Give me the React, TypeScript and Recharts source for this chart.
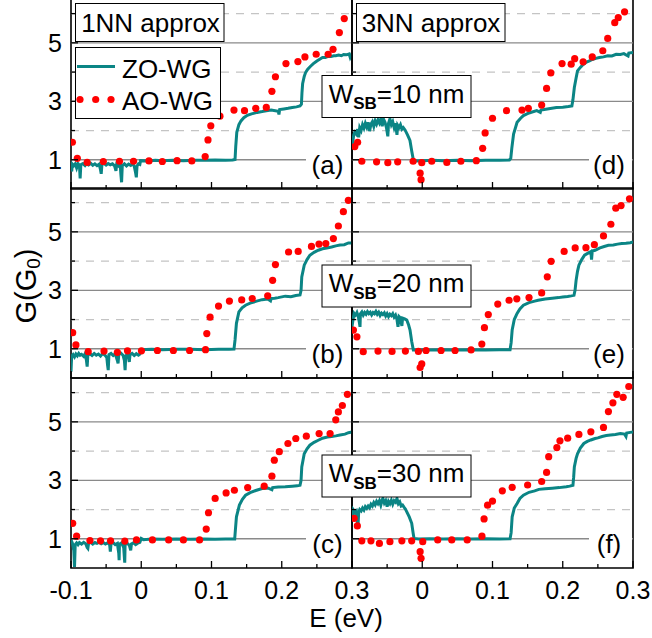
import React from 'react';
import { ComposedChart, Line, Scatter, XAxis, YAxis, ReferenceLine, ReferenceArea } from 'recharts';

type P = [number, number];

const FONT = '"Liberation Sans", Arial, Helvetica, sans-serif';
const TEAL = '#0b8585';
const RED = '#ff0000';

const xTicks = [-0.1, -0.05, 0, 0.05, 0.1, 0.15, 0.2, 0.25, 0.3];
const xTickLabels = ['-0.1', '', '0', '', '0.1', '', '0.2', '', '0.3'];
const yTicks = [1, 2, 3, 4, 5, 6];
const yLabelTicks = [1, 3, 5];
const solidGrid = [1, 3, 5];
const dashedGrid = [2, 4, 6];
const panelLabels = ['(a)', '(b)', '(c)', '(d)', '(e)', '(f)'];
const widthLabels = ['10', '20', '30'];
const approxLabels = ['1NN approx', '3NN approx'];
const seriesNames = ['ZO-WG', 'AO-WG'];

// ---- panel (a): 1NN, W=10 nm
const zoA: P[] = [
  [-0.1, 0.78], [-0.099, 0.6], [-0.098, 0.85], [-0.096, 0.8], [-0.094, 0.86], [-0.092, 0.72], [-0.09, 0.87], [-0.088, 0.82], [-0.087, 0.36], [-0.086, 0.83],
  [-0.083, 0.87], [-0.08, 0.8], [-0.078, 0.86], [-0.075, 0.82], [-0.072, 0.88], [-0.069, 0.81], [-0.066, 0.86], [-0.063, 0.8], [-0.06, 0.85], [-0.058, 0.66],
  [-0.057, 0.52], [-0.056, 0.83], [-0.053, 0.88], [-0.05, 0.82], [-0.047, 0.87], [-0.044, 0.83], [-0.041, 0.86], [-0.038, 0.79], [-0.036, 0.62], [-0.035, 0.84],
  [-0.032, 0.78], [-0.03, 0.86], [-0.029, 0.5], [-0.028, 0.23], [-0.027, 0.8], [-0.024, 0.86], [-0.021, 0.79], [-0.018, 0.85], [-0.015, 0.81], [-0.012, 0.87],
  [-0.01, 0.78], [-0.008, 0.55], [-0.007, 0.4], [-0.006, 0.79], [-0.004, 0.86], [-0.002, 0.84], [-0.001, 0.97], [0.01, 0.96], [0.02, 0.98], [0.03, 0.97],
  [0.045, 0.98], [0.06, 0.97], [0.075, 0.98], [0.09, 0.98], [0.105, 0.99], [0.12, 0.98], [0.13, 0.99], [0.1335, 1.01], [0.1345, 1.45], [0.136, 1.94],
  [0.139, 2.2], [0.142, 2.33], [0.146, 2.44], [0.151, 2.52], [0.157, 2.57], [0.165, 2.62], [0.172, 2.65], [0.178, 2.68], [0.185, 2.7], [0.195, 2.66],
  [0.196, 2.55], [0.197, 2.72], [0.203, 2.74], [0.209, 2.76], [0.215, 2.79], [0.221, 2.81], [0.226, 2.84], [0.228, 2.9], [0.2288, 3.3], [0.2297, 3.6],
  [0.232, 3.85], [0.234, 3.99], [0.237, 4.1], [0.241, 4.2], [0.245, 4.29], [0.25, 4.38], [0.254, 4.44], [0.258, 4.5], [0.262, 4.5], [0.266, 4.54],
  [0.27, 4.53], [0.274, 4.56], [0.277, 4.56], [0.281, 4.58], [0.285, 4.56], [0.288, 4.6], [0.292, 4.59], [0.296, 4.62], [0.2975, 4.5], [0.3, 4.62],
];
const aoA: P[] = [
  [-0.098, 1.6], [-0.091, 1.05], [-0.077, 0.91], [-0.054, 0.94], [-0.031, 0.95], [-0.011, 0.95], [0.011, 0.96], [0.03, 0.94], [0.051, 0.97], [0.072, 0.96],
  [0.091, 1.11], [0.095, 1.68], [0.099, 2.16], [0.112, 2.49], [0.132, 2.7], [0.147, 2.68], [0.163, 2.76], [0.178, 2.79], [0.186, 3.34], [0.191, 3.84],
  [0.206, 4.29], [0.223, 4.36], [0.233, 4.52], [0.249, 4.61], [0.266, 4.61], [0.273, 4.78], [0.282, 5.35], [0.289, 5.83],
];

// ---- panel (b): 1NN, W=20 nm
const zoB: P[] = [
  [-0.1, 0.22], [-0.0995, 0.5], [-0.099, 0.74], [-0.097, 0.8], [-0.095, 0.72], [-0.093, 0.82], [-0.091, 0.76], [-0.089, 0.84], [-0.087, 0.78], [-0.085, 0.81],
  [-0.082, 0.74], [-0.08, 0.83], [-0.078, 0.6], [-0.077, 0.39], [-0.076, 0.78], [-0.073, 0.83], [-0.07, 0.77], [-0.067, 0.84], [-0.064, 0.78], [-0.061, 0.82],
  [-0.058, 0.75], [-0.055, 0.84], [-0.052, 0.79], [-0.049, 0.7], [-0.048, 0.45], [-0.047, 0.27], [-0.046, 0.8], [-0.043, 0.84], [-0.04, 0.77], [-0.037, 0.83],
  [-0.034, 0.6], [-0.033, 0.5], [-0.032, 0.8], [-0.029, 0.85], [-0.026, 0.78], [-0.024, 0.6], [-0.023, 0.27], [-0.022, 0.76], [-0.019, 0.82], [-0.017, 0.55],
  [-0.016, 0.8], [-0.013, 0.84], [-0.01, 0.77], [-0.007, 0.83], [-0.004, 0.78], [-0.002, 0.82], [0.0, 0.97], [0.015, 0.98], [0.03, 0.97], [0.05, 0.98],
  [0.07, 0.98], [0.09, 0.97], [0.11, 0.98], [0.125, 0.98], [0.132, 0.99], [0.1335, 1.3], [0.1355, 1.87], [0.139, 2.26], [0.1435, 2.4], [0.1485, 2.49],
  [0.155, 2.56], [0.163, 2.62], [0.172, 2.68], [0.18, 2.7], [0.184, 2.64], [0.185, 2.72], [0.19, 2.73], [0.195, 2.75], [0.205, 2.8], [0.213, 2.78],
  [0.22, 2.82], [0.226, 2.84], [0.2275, 3.0], [0.2285, 3.46], [0.232, 3.86], [0.236, 4.05], [0.24, 4.2], [0.246, 4.3], [0.252, 4.37], [0.258, 4.42],
  [0.264, 4.45], [0.271, 4.48], [0.277, 4.52], [0.283, 4.55], [0.289, 4.56], [0.295, 4.62], [0.3, 4.62],
];
const aoB: P[] = [
  [-0.0976, 1.55], [-0.093, 1.13], [-0.0755, 0.9], [-0.053, 0.92], [-0.034, 0.88], [-0.0196, 0.93], [0.0003, 0.93], [0.023, 0.94], [0.0457, 0.94], [0.0688, 0.94],
  [0.0915, 0.97], [0.0933, 1.52], [0.098, 2.08], [0.11, 2.46], [0.1255, 2.63], [0.143, 2.67], [0.158, 2.72], [0.18, 2.81], [0.187, 3.34], [0.191, 3.88],
  [0.2097, 4.31], [0.2234, 4.33], [0.2423, 4.5], [0.253, 4.58], [0.2627, 4.6], [0.2735, 4.77], [0.2806, 5.2], [0.2877, 5.69], [0.2948, 6.08],
];

// ---- panel (c): 1NN, W=30 nm
const zoC: P[] = [
  [-0.1, 0.96], [-0.098, 0.85], [-0.096, 0.6], [-0.095, 0.04], [-0.094, 0.8], [-0.092, 0.86], [-0.09, 0.8], [-0.088, 0.87], [-0.085, 0.82], [-0.082, 0.88],
  [-0.079, 0.83], [-0.077, 0.7], [-0.076, 0.67], [-0.075, 0.84], [-0.072, 0.88], [-0.069, 0.82], [-0.066, 0.87], [-0.063, 0.84], [-0.06, 0.88], [-0.057, 0.83],
  [-0.054, 0.87], [-0.051, 0.82], [-0.048, 0.86], [-0.045, 0.8], [-0.044, 0.56], [-0.043, 0.83], [-0.04, 0.87], [-0.037, 0.8], [-0.034, 0.84], [-0.032, 0.5],
  [-0.0315, 0.27], [-0.031, 0.82], [-0.028, 0.86], [-0.025, 0.7], [-0.0235, 0.18], [-0.023, 0.79], [-0.02, 0.85], [-0.017, 0.78], [-0.015, 0.6], [-0.014, 0.82],
  [-0.011, 0.86], [-0.008, 0.8], [-0.005, 0.85], [-0.002, 0.88], [0.0, 1.01], [0.003, 0.97], [0.015, 0.99], [0.03, 0.98], [0.05, 0.99], [0.07, 0.98],
  [0.09, 0.99], [0.105, 0.98], [0.12, 0.99], [0.133, 0.99], [0.134, 1.3], [0.1355, 1.75], [0.1397, 2.15], [0.144, 2.35], [0.1485, 2.49], [0.155, 2.58],
  [0.163, 2.65], [0.172, 2.72], [0.18, 2.74], [0.186, 2.68], [0.187, 2.75], [0.195, 2.77], [0.205, 2.78], [0.215, 2.8], [0.222, 2.81], [0.226, 2.83],
  [0.2275, 3.0], [0.2285, 3.46], [0.232, 3.91], [0.236, 4.08], [0.24, 4.2], [0.246, 4.3], [0.252, 4.37], [0.258, 4.44], [0.265, 4.48], [0.271, 4.5],
  [0.277, 4.52], [0.283, 4.55], [0.29, 4.58], [0.295, 4.63], [0.3, 4.65],
];
const aoC: P[] = [
  [-0.0976, 1.53], [-0.092, 1.09], [-0.073, 0.94], [-0.058, 0.93], [-0.0437, 0.93], [-0.0234, 0.92], [-0.0068, 0.96], [0.0159, 0.96], [0.039, 0.96], [0.06, 0.96],
  [0.083, 0.96], [0.0925, 1.33], [0.0957, 1.89], [0.1052, 2.38], [0.1208, 2.57], [0.1326, 2.66], [0.1515, 2.75], [0.175, 2.8], [0.186, 3.14], [0.1894, 3.69],
  [0.1965, 3.98], [0.2088, 4.26], [0.22, 4.43], [0.235, 4.51], [0.2532, 4.6], [0.2688, 4.6], [0.2769, 5.07], [0.2806, 5.34], [0.2863, 5.56], [0.2934, 5.94],
];

// ---- panel (d): 3NN, W=10 nm
const zoD: P[] = [
  [-0.1, 1.43], [-0.099, 1.6], [-0.0975, 1.85], [-0.096, 1.94], [-0.094, 1.88], [-0.092, 2.05], [-0.0905, 1.77], [-0.089, 2.1], [-0.087, 2.0], [-0.085, 2.2],
  [-0.083, 2.08], [-0.081, 2.25], [-0.079, 2.12], [-0.077, 2.28], [-0.075, 1.98], [-0.073, 2.22], [-0.071, 2.3], [-0.069, 2.14], [-0.067, 2.33], [-0.065, 2.22],
  [-0.063, 2.36], [-0.061, 2.26], [-0.059, 2.4], [-0.057, 2.15], [-0.055, 2.38], [-0.053, 2.28], [-0.051, 2.1], [-0.049, 1.8], [-0.048, 2.25], [-0.046, 2.4],
  [-0.044, 2.2], [-0.042, 2.3], [-0.04, 2.1], [-0.038, 2.25], [-0.036, 1.85], [-0.035, 2.18], [-0.033, 2.1], [-0.031, 2.2], [-0.029, 2.05], [-0.027, 2.1],
  [-0.0245, 2.02], [-0.021, 1.85], [-0.0175, 1.66], [-0.015, 1.3], [-0.0127, 1.0], [-0.01, 0.96], [0.0, 0.97], [0.015, 0.98], [0.03, 0.97], [0.05, 0.98],
  [0.07, 0.97], [0.09, 0.98], [0.11, 0.98], [0.124, 0.99], [0.126, 1.05], [0.1275, 1.4], [0.13, 1.88], [0.135, 2.28], [0.14, 2.42], [0.144, 2.51],
  [0.152, 2.6], [0.163, 2.68], [0.168, 2.62], [0.169, 2.7], [0.178, 2.74], [0.191, 2.79], [0.2, 2.8], [0.208, 2.82], [0.213, 2.84], [0.2145, 3.05],
  [0.2165, 3.47], [0.219, 3.8], [0.221, 4.04], [0.225, 4.16], [0.229, 4.26], [0.233, 4.33], [0.238, 4.38], [0.242, 4.43], [0.247, 4.47], [0.252, 4.5],
  [0.258, 4.52], [0.264, 4.56], [0.27, 4.55], [0.276, 4.61], [0.282, 4.6], [0.287, 4.63], [0.293, 4.55], [0.294, 4.65], [0.3, 4.67],
];
const aoD: P[] = [
  [-0.096, 1.45], [-0.092, 1.6], [-0.086, 0.95], [-0.065, 0.93], [-0.049, 0.9], [-0.035, 0.93], [-0.013, 0.95], [-0.003, 0.54], [-0.0017, 0.32], [-0.0007, 0.9],
  [0.0135, 0.95], [0.035, 0.91], [0.055, 0.95], [0.077, 0.97], [0.086, 1.39], [0.0895, 1.92], [0.1, 2.42], [0.12, 2.68], [0.142, 2.7], [0.151, 2.76],
  [0.17, 2.87], [0.177, 3.44], [0.183, 3.97], [0.199, 4.29], [0.212, 4.27], [0.217, 4.46], [0.229, 4.35], [0.242, 4.52], [0.257, 4.73], [0.264, 5.15],
  [0.274, 5.69], [0.279, 5.86], [0.288, 6.06],
];

// ---- panel (e): 3NN, W=20 nm
const zoE: P[] = [
  [-0.1, 1.75], [-0.0985, 2.0], [-0.097, 2.21], [-0.095, 2.15], [-0.093, 2.24], [-0.091, 2.1], [-0.0895, 1.9], [-0.0886, 1.75], [-0.088, 2.2], [-0.086, 2.26],
  [-0.084, 2.15], [-0.082, 2.24], [-0.08, 2.18], [-0.078, 2.27], [-0.076, 2.2], [-0.074, 2.25], [-0.072, 2.16], [-0.07, 2.24], [-0.068, 2.2], [-0.066, 2.28],
  [-0.064, 2.18], [-0.062, 2.25], [-0.06, 2.14], [-0.058, 2.22], [-0.056, 2.17], [-0.054, 2.23], [-0.052, 2.12], [-0.05, 2.2], [-0.048, 2.1], [-0.046, 2.18],
  [-0.044, 2.13], [-0.042, 2.2], [-0.04, 2.08], [-0.038, 2.15], [-0.036, 2.0], [-0.0345, 1.75], [-0.033, 2.1], [-0.031, 2.05], [-0.029, 1.78], [-0.028, 2.05],
  [-0.025, 2.02], [-0.022, 1.98], [-0.0195, 1.82], [-0.0174, 1.64], [-0.015, 1.25], [-0.0127, 0.96], [-0.005, 0.97], [0.01, 0.96], [0.03, 0.97], [0.05, 0.96],
  [0.07, 0.97], [0.09, 0.96], [0.11, 0.97], [0.125, 0.97], [0.1265, 1.2], [0.128, 1.64], [0.131, 2.0], [0.135, 2.21], [0.139, 2.36], [0.144, 2.49],
  [0.152, 2.58], [0.16, 2.63], [0.165, 2.66], [0.175, 2.7], [0.185, 2.73], [0.194, 2.75], [0.2, 2.77], [0.207, 2.79], [0.212, 2.81], [0.216, 2.83],
  [0.2175, 3.0], [0.219, 3.34], [0.221, 3.65], [0.223, 3.86], [0.227, 4.05], [0.231, 4.2], [0.236, 4.27], [0.24, 4.32], [0.241, 4.05], [0.242, 4.34],
  [0.246, 4.37], [0.253, 4.45], [0.259, 4.5], [0.265, 4.54], [0.272, 4.55], [0.278, 4.58], [0.284, 4.6], [0.29, 4.61], [0.296, 4.63], [0.3, 4.65],
];
const aoE: P[] = [
  [-0.098, 1.64], [-0.093, 1.41], [-0.084, 0.9], [-0.063, 0.92], [-0.043, 0.91], [-0.024, 0.92], [-0.0055, 0.91], [-0.003, 0.36], [-0.0007, 0.48], [0.0054, 0.94],
  [0.0268, 0.94], [0.0467, 0.94], [0.0695, 0.96], [0.0848, 1.16], [0.0885, 1.72], [0.094, 2.17], [0.1075, 2.53], [0.1236, 2.66], [0.1346, 2.71], [0.152, 2.75],
  [0.17, 2.91], [0.178, 3.46], [0.1835, 3.99], [0.202, 4.33], [0.2177, 4.45], [0.233, 4.46], [0.245, 4.56], [0.258, 4.86], [0.2685, 5.26], [0.2755, 5.81],
  [0.283, 5.9], [0.295, 6.13],
];

// ---- panel (f): 3NN, W=30 nm
const zoF: P[] = [
  [-0.1, 1.64], [-0.0985, 1.85], [-0.098, 1.98], [-0.096, 1.9], [-0.094, 1.95], [-0.0925, 1.6], [-0.0915, 1.41], [-0.0905, 1.9], [-0.089, 2.0], [-0.087, 1.95],
  [-0.085, 2.05], [-0.083, 1.98], [-0.081, 2.1], [-0.079, 2.04], [-0.077, 2.12], [-0.075, 2.06], [-0.073, 2.18], [-0.071, 2.12], [-0.069, 2.24], [-0.067, 2.16],
  [-0.065, 2.28], [-0.063, 2.2], [-0.061, 2.3], [-0.059, 2.15], [-0.057, 2.33], [-0.056, 2.38], [-0.054, 2.22], [-0.052, 2.3], [-0.05, 2.1], [-0.048, 2.28],
  [-0.046, 2.2], [-0.044, 2.32], [-0.042, 2.18], [-0.04, 2.3], [-0.038, 2.25], [-0.036, 2.38], [-0.034, 2.2], [-0.032, 2.26], [-0.03, 2.12], [-0.028, 2.15],
  [-0.026, 2.08], [-0.024, 2.02], [-0.022, 1.92], [-0.0185, 1.75], [-0.015, 1.53], [-0.013, 1.2], [-0.0117, 1.01], [-0.005, 0.99], [0.01, 1.0], [0.03, 0.99],
  [0.05, 1.0], [0.07, 0.99], [0.09, 1.0], [0.11, 0.99], [0.125, 1.0], [0.1265, 1.2], [0.128, 1.75], [0.131, 2.05], [0.135, 2.21], [0.139, 2.38],
  [0.144, 2.49], [0.152, 2.59], [0.16, 2.64], [0.166, 2.69], [0.175, 2.71], [0.185, 2.73], [0.195, 2.75], [0.205, 2.78], [0.21, 2.8], [0.2145, 2.83],
  [0.2155, 3.1], [0.2165, 3.46], [0.219, 3.75], [0.221, 3.91], [0.225, 4.1], [0.23, 4.26], [0.235, 4.33], [0.24, 4.38], [0.246, 4.43], [0.25, 4.45],
  [0.256, 4.5], [0.262, 4.53], [0.268, 4.55], [0.275, 4.57], [0.282, 4.6], [0.288, 4.58], [0.29, 4.5], [0.291, 4.62], [0.296, 4.64], [0.3, 4.65],
];
const aoF: P[] = [
  [-0.097, 1.7], [-0.0924, 1.44], [-0.086, 0.93], [-0.073, 0.93], [-0.061, 0.84], [-0.046, 0.9], [-0.029, 0.93], [-0.015, 0.93], [-0.003, 0.56], [-0.0017, 0.33],
  [0.0007, 0.9], [0.022, 0.96], [0.042, 0.96], [0.064, 0.96], [0.085, 1.09], [0.088, 1.68], [0.093, 2.15], [0.1, 2.29], [0.114, 2.64], [0.128, 2.76],
  [0.15, 2.84], [0.17, 2.96], [0.177, 3.27], [0.18, 3.81], [0.1916, 4.12], [0.196, 4.35], [0.207, 4.44], [0.223, 4.57], [0.24, 4.66], [0.258, 4.81],
  [0.265, 5.35], [0.2714, 5.65], [0.277, 5.94], [0.286, 5.84], [0.294, 6.21],
];

const zoSeries = [zoA, zoB, zoC, zoD, zoE, zoF];
const aoSeries = [aoA, aoB, aoC, aoD, aoE, aoF];

// layout
const PLOT_W = 281;
const PLOT_H = 190;
const COL_LEFT = [71, 352];
const ROW_BOTTOM = [188.5, 378, 568];
const ML = 71;
const MT = 10;
const MR = 24;
const MB = 60;

const renderXTick = (p: any, showLabels: boolean, col: number) => {
  const v = p.payload.value;
  const i = xTicks.findIndex((t) => Math.abs(t - v) < 1e-9);
  const label = xTickLabels[i] || '';
  const major = label !== '';
  const show = showLabels && major && !(col === 1 && i === 0);
  return (
    <g key={`xt${i}`}>
      <line x1={p.x} x2={p.x} y1={p.y} y2={p.y - (major ? 7 : 4)} stroke="#000" strokeWidth={1.3} />
      {show && (
        <text x={p.x} y={p.y + 31} textAnchor="middle" fontSize={25} fill="#000" fontFamily={FONT}>
          {label}
        </text>
      )}
    </g>
  );
};

const renderYTick = (p: any, showLabels: boolean) => {
  const v = p.payload.value;
  const major = yLabelTicks.includes(v);
  return (
    <g key={`yt${v}`}>
      <line x1={p.x} x2={p.x + (major ? 7 : 4)} y1={p.y} y2={p.y} stroke="#000" strokeWidth={1.3} />
      {showLabels && major && (
        <text x={p.x - 9} y={p.y} dy="0.36em" textAnchor="end" fontSize={25} fill="#000" fontFamily={FONT}>
          {String(v)}
        </text>
      )}
    </g>
  );
};

const dotShape = (p: any) => <circle cx={p.cx} cy={p.cy} r={3.6} fill={RED} />;

function Panel({ idx }: { idx: number }) {
  const col = Math.floor(idx / 3);
  const row = idx % 3;
  const left = COL_LEFT[col];
  const top = ROW_BOTTOM[row] - PLOT_H;
  const zoData = zoSeries[idx].map(([x, y]) => ({ x, y }));
  const aoData = aoSeries[idx].map(([x, y]) => ({ x, y }));
  const showX = row === 2;
  const showY = col === 0;
  return (
    <div style={{ position: 'absolute', left: left - ML, top: top - MT }}>
      <ComposedChart
        width={ML + PLOT_W + MR}
        height={MT + PLOT_H + MB}
        margin={{ top: MT, right: MR, bottom: 0, left: 0 }}
      >
        <XAxis
          dataKey="x"
          type="number"
          domain={[-0.1, 0.3]}
          ticks={xTicks}
          interval={0}
          allowDataOverflow
          height={MB}
          axisLine={false}
          tickLine={false}
          tickSize={0}
          tickMargin={0}
          tick={(p: any) => renderXTick(p, showX, col)}
        />
        <YAxis
          dataKey="y"
          type="number"
          domain={[0, 6.5]}
          ticks={yTicks}
          interval={0}
          allowDataOverflow
          width={ML}
          axisLine={false}
          tickLine={false}
          tickSize={0}
          tickMargin={0}
          tick={(p: any) => renderYTick(p, showY)}
        />
        {solidGrid.map((v) => (
          <ReferenceLine key={`s${v}`} y={v} stroke="#8a8a8a" strokeWidth={1.3} />
        ))}
        {dashedGrid.map((v) => (
          <ReferenceLine key={`d${v}`} y={v} stroke="#c4c4c4" strokeWidth={1.3} strokeDasharray="8 7" />
        ))}
        <Line
          data={zoData}
          dataKey="y"
          type="linear"
          stroke={TEAL}
          strokeWidth={3}
          dot={false}
          isAnimationActive={false}
        />
        <Scatter data={aoData} dataKey="y" fill={RED} shape={dotShape} isAnimationActive={false} />
        <ReferenceArea
          x1={-0.1}
          x2={0.3}
          y1={0}
          y2={6.5}
          fill="none"
          fillOpacity={0}
          stroke="#000"
          strokeWidth={1.6}
          ifOverflow="visible"
        />
      </ComposedChart>
    </div>
  );
}

function Overlay() {
  const boxes = ROW_BOTTOM.map((b, r) => {
    const top = b - 113;
    return (
      <g key={`w${r}`}>
        <rect x={322} y={top} width={149} height={42} fill="#fff" stroke="#000" strokeWidth={1} />
        <text x={396.5} y={top + 27} textAnchor="middle" fontSize={26} fontFamily={FONT} fill="#000">
          <tspan>W</tspan>
          <tspan fontSize={17} fontWeight="bold" dy={6.5}>SB</tspan>
          <tspan dy={-6.5}>{`=${widthLabels[r]} nm`}</tspan>
        </text>
      </g>
    );
  });
  const labels = panelLabels.map((lab, i) => {
    const col = Math.floor(i / 3);
    const row = i % 3;
    const b = ROW_BOTTOM[row];
    const bx = col === 0 ? 306 : 589;
    const cx = col === 0 ? 327.5 : 609;
    return (
      <g key={lab}>
        <rect x={bx} y={b - 38} width={col === 0 ? 45 : 43} height={31} fill="#fff" />
        <text x={cx} y={b - 15} textAnchor="middle" fontSize={26} fontFamily={FONT} fill="#000">
          {lab}
        </text>
      </g>
    );
  });
  return (
    <svg width={652} height={638} style={{ position: 'absolute', left: 0, top: 0, pointerEvents: 'none' }}>
      {/* approximation boxes */}
      <rect x={75.5} y={3.5} width={148.5} height={38} fill="#fff" stroke="#000" strokeWidth={1} />
      <text x={150.5} y={31.5} textAnchor="middle" fontSize={26} fontFamily={FONT} fill="#000">
        {approxLabels[0]}
      </text>
      <rect x={356.5} y={3.5} width={148.5} height={38} fill="#fff" stroke="#000" strokeWidth={1} />
      <text x={431} y={31.5} textAnchor="middle" fontSize={26} fontFamily={FONT} fill="#000">
        {approxLabels[1]}
      </text>
      {/* legend */}
      <rect x={75.5} y={47.5} width={145} height={71} fill="#fff" stroke="#000" strokeWidth={1} />
      <line x1={77} x2={115} y1={66.5} y2={66.5} stroke={TEAL} strokeWidth={3} />
      <text x={122} y={77.5} fontSize={26} fontFamily={FONT} fill="#000">
        {seriesNames[0]}
      </text>
      <circle cx={80} cy={99.5} r={3.6} fill={RED} />
      <circle cx={95.7} cy={99.5} r={3.6} fill={RED} />
      <circle cx={111} cy={99.5} r={3.6} fill={RED} />
      <text x={122} y={109.5} fontSize={26} fontFamily={FONT} fill="#000">
        {seriesNames[1]}
      </text>
      {boxes}
      {labels}
      {/* axis titles */}
      <text
        x={0}
        y={0}
        transform="translate(36,286) rotate(-90)"
        textAnchor="middle"
        fontSize={29}
        fontFamily={FONT}
        fill="#000"
      >
        <tspan>G(G</tspan>
        <tspan fontSize={19} dy={4}>0</tspan>
        <tspan dy={-4}>)</tspan>
      </text>
      <text x={346} y={627} textAnchor="middle" fontSize={26} fontFamily={FONT} fill="#000">
        E (eV)
      </text>
    </svg>
  );
}

export default function App() {
  return (
    <div
      style={{
        position: 'absolute',
        left: 0,
        top: 0,
        width: 652,
        height: 638,
        background: '#fff',
        overflow: 'hidden',
        fontFamily: FONT,
      }}
    >
      {[0, 1, 2, 3, 4, 5].map((i) => (
        <Panel key={i} idx={i} />
      ))}
      <Overlay />
    </div>
  );
}
